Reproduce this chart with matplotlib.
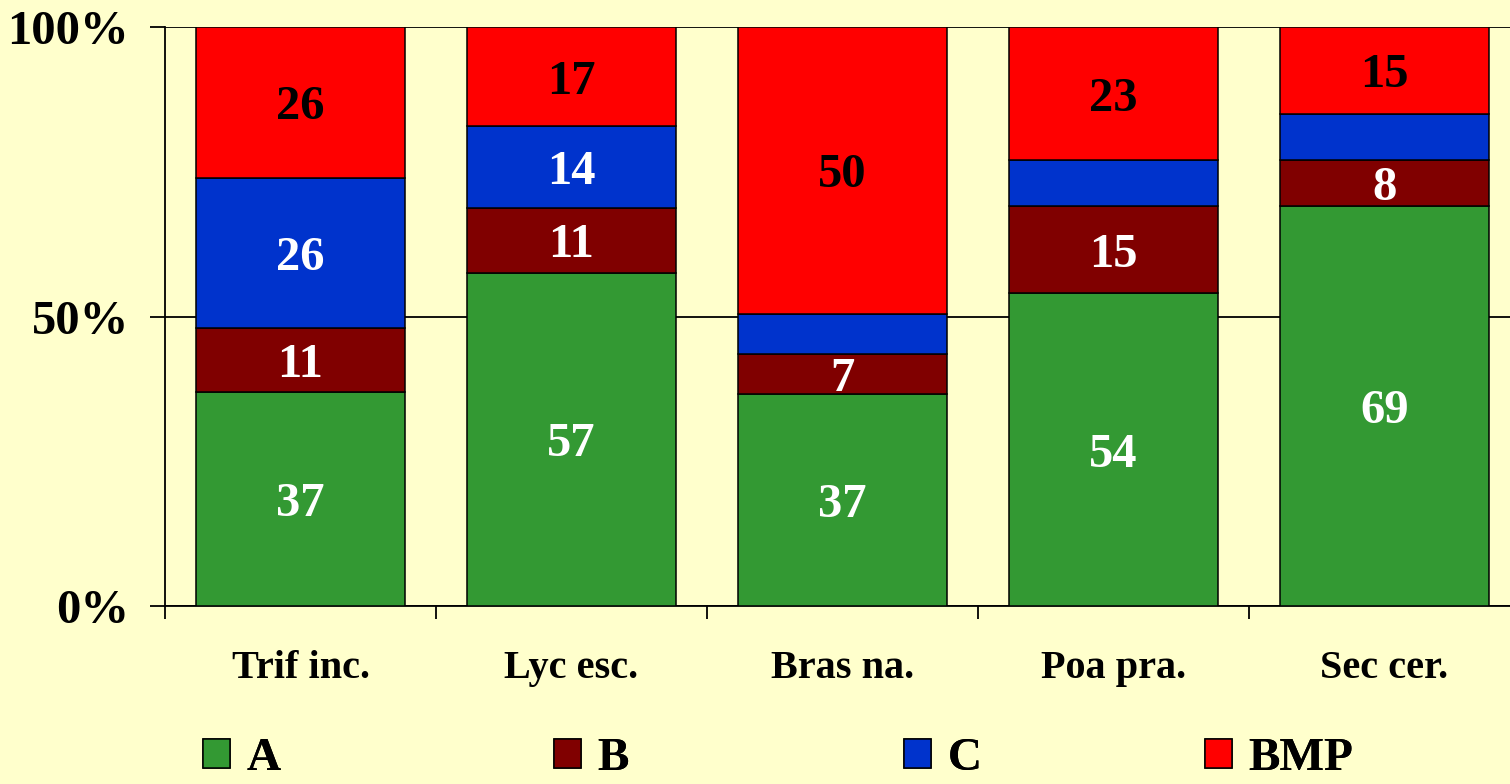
import numpy as np
import matplotlib
matplotlib.use("Agg")
import matplotlib.pyplot as plt

categories = ["Trif inc.", "Lyc esc.", "Bras na.", "Poa pra.", "Sec cer."]
series = ["A", "B", "C", "BMP"]
vals_A = [37, 57, 37, 54, 69]
vals_B = [11, 11, 7, 15, 8]
vals_C = [26, 14, 7, 8, 8]
vals_BMP = [26, 17, 50, 23, 15]
# which C segments carry a printed value
show_C = [True, True, False, False, False]

colors = ["#339933", "#800000", "#0033CC", "#FF0000"]
label_colors = ["white", "white", "white", "black"]
bg = "#FFFFCC"
# legend entry left edges in pixels
legend_x = [203, 554, 904, 1205]

plt.rcParams['font.family'] = ['Liberation Serif', 'DejaVu Serif']
plt.rcParams['font.weight'] = 'bold'

data = np.array([vals_A, vals_B, vals_C, vals_BMP], dtype=float)
pct = data / data.sum(axis=0) * 100
shows = [[True] * 5, [True] * 5, show_C, [True] * 5]

fig = plt.figure(figsize=(15.1, 7.84), dpi=100, facecolor=bg)
ax = fig.add_axes([165 / 1510, 178 / 784, 1355 / 1510, 579 / 784])
ax.set_facecolor(bg)

x = np.arange(len(categories))
bottom = np.zeros(len(categories))
handles = []
for i, name in enumerate(series):
    b = ax.bar(x, pct[i], 0.768, bottom=bottom, color=colors[i],
               edgecolor="black", linewidth=1.1, label=name, zorder=3)
    handles.append(b)
    for j in range(len(categories)):
        if shows[i][j]:
            ax.text(x[j], bottom[j] + pct[i][j] / 2, "%d" % data[i][j],
                    ha="center", va="center_baseline", color=label_colors[i],
                    fontsize=35, fontweight="bold", zorder=4)
    bottom += pct[i]

ax.set_xlim(-0.5, len(categories) - 0.5)
ax.set_ylim(0, 100)
ax.set_yticks([0, 50, 100])
ax.set_yticklabels(["0%", "50%", "100%"])
ax.yaxis.grid(True, color="black", linewidth=1.3, zorder=1)
ax.set_axisbelow(True)

ax.set_xticks(x)
ax.set_xticklabels(categories)
ax.set_xticks(np.arange(-0.5, len(categories)), minor=True)
ax.tick_params(axis="x", which="major", length=0, pad=32, labelsize=29)
ax.tick_params(axis="x", which="minor", length=9, width=1.3, direction="out")
ax.tick_params(axis="y", length=11, width=1.3, direction="out", pad=15,
               labelsize=35)

for s in ["top", "right"]:
    ax.spines[s].set_visible(False)
for s in ["left", "bottom"]:
    ax.spines[s].set_linewidth(1.3)

for h, name, lx in zip(handles, series, legend_x):
    leg = fig.legend(handles=[h], labels=[name], loc="center left",
                     bbox_to_anchor=(lx / 1510, 1 - 759 / 784),
                     frameon=False, fontsize=34, handlelength=0.57,
                     handleheight=0.57, handletextpad=0.35,
                     borderpad=0, borderaxespad=0)
    fig.add_artist(leg)

fig.savefig("out.png", dpi=100, facecolor=bg)
